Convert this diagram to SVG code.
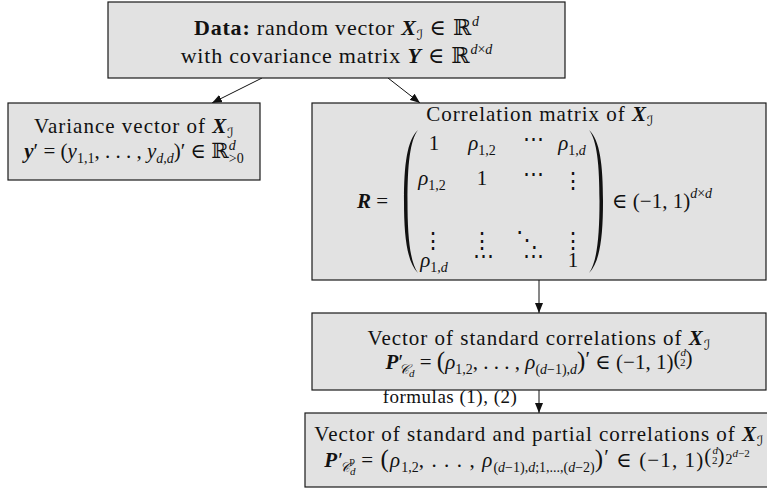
<svg xmlns="http://www.w3.org/2000/svg" width="767" height="502" viewBox="0 0 767 502">
<style>
.box{fill:#e2e2e2;stroke:#1a1a1a;stroke-width:1.2}
text{font-family:"Liberation Serif","DejaVu Serif",serif;font-size:21px;fill:#111}
.big{font-size:22px;letter-spacing:0.8px}
.ls{letter-spacing:1px}
.lab{font-size:19px;letter-spacing:0.5px}
.i{font-style:italic}
.bi{font-style:italic;font-weight:bold}
.b{font-weight:bold}
.sm{font-size:14px;letter-spacing:0}
.xs{font-size:11px;letter-spacing:0}
.cal{font-family:"DejaVu Sans","DejaVu Serif",sans-serif;font-style:italic}
.calc{font-family:"DejaVu Serif","DejaVu Sans",serif;font-style:italic}
.c{text-anchor:middle}
.dots{font-family:"DejaVu Serif",serif;font-size:22px}
.edge{stroke:#111;stroke-width:1;fill:none;marker-end:url(#ah)}
.paren{fill:#111}
</style>
<defs>
<marker id="ah" markerWidth="10" markerHeight="8" refX="10" refY="4" orient="auto" markerUnits="userSpaceOnUse">
<path d="M0,0 L10,4 L0,8 z" fill="#111"/>
</marker>
</defs>

<g id="connectors">
<line class="edge" x1="262" y1="78" x2="212" y2="103"/>
<line class="edge" x1="388" y1="78" x2="420" y2="103"/>
<line class="edge" x1="539" y1="280" x2="539" y2="313"/>
<line class="edge" x1="539" y1="390" x2="539" y2="413"/>
<text x="450" y="403" class="c lab">formulas (1), (2)</text>
</g>

<g id="data">
<rect class="box" x="108" y="2" width="457" height="76"/>
<text x="336.5" y="35" class="c big"><tspan class="b">Data:</tspan> random vector <tspan class="bi">X</tspan><tspan class="cal sm" font-size="15" dy="5">ℐ</tspan><tspan dy="-5"> ∈ ℝ</tspan><tspan class="sm i" font-size="15" dy="-9">d</tspan></text>
<text x="336.5" y="63" class="c big">with covariance matrix <tspan class="bi">Y</tspan> ∈ ℝ<tspan class="sm" font-size="15" dy="-9"><tspan class="i">d</tspan>×<tspan class="i">d</tspan></tspan></text>
</g>

<g id="variance">
<rect class="box" x="8" y="103" width="252" height="77"/>
<text x="134" y="133" class="c ls">Variance vector of <tspan class="bi">X</tspan><tspan class="cal sm" dy="5">ℐ</tspan></text>
<text x="134" y="158" class="c"><tspan class="bi">y</tspan>′ = (<tspan class="i">y</tspan><tspan class="sm" dy="5">1,1</tspan><tspan dy="-5">, . . . , </tspan><tspan class="i">y</tspan><tspan class="sm i" dy="5">d,d</tspan><tspan dy="-5">)′ ∈ ℝ</tspan><tspan class="sm i" dy="-8">d</tspan><tspan class="sm" dx="-7" dy="13">&gt;0</tspan></text>
</g>

<g id="correlation">
<rect class="box" x="312" y="103" width="454" height="177"/>
<text x="540" y="121" class="c ls">Correlation matrix of <tspan class="bi">X</tspan><tspan class="cal sm" dy="5">ℐ</tspan></text>
<text x="357" y="208"><tspan class="bi">R</tspan> =</text>
<path class="paren" d="M418,130 C407,140 404,165 404,201 C404,237 407,262 418,273 C410,262 407.5,237 407.5,201 C407.5,165 410,140 418,130 z"/>
<path class="paren" d="M589,130 C600,140 603,165 603,201 C603,237 600,262 589,273 C597,262 599.5,237 599.5,201 C599.5,165 597,140 589,130 z"/>
<text x="434" y="150" class="c">1</text>
<text x="482" y="150" class="c"><tspan class="i">ρ</tspan><tspan class="sm" dy="5">1,2</tspan></text>
<text x="533" y="146" class="c">⋯</text>
<text x="572" y="150" class="c"><tspan class="i">ρ</tspan><tspan class="sm" dy="5">1,<tspan class="i">d</tspan></tspan></text>
<text x="432" y="185" class="c"><tspan class="i">ρ</tspan><tspan class="sm" dy="5">1,2</tspan></text>
<text x="482" y="185" class="c">1</text>
<text x="533" y="181" class="c">⋯</text>
<text x="573" y="188" class="c dots">⋮</text>
<text x="433" y="248" class="c dots">⋮</text>
<text x="482" y="248" class="c dots">⋮</text>
<text x="527" y="247" class="c dots">⋱</text>
<text x="573" y="248" class="c dots">⋮</text>
<text x="434" y="267" class="c"><tspan class="i">ρ</tspan><tspan class="sm" dy="5">1,<tspan class="i">d</tspan></tspan></text>
<text x="483" y="263" class="c">⋯</text>
<text x="533" y="263" class="c">⋯</text>
<text x="573" y="267" class="c">1</text>
<text x="612" y="208">∈ (−1, 1)<tspan class="sm" dy="-10"><tspan class="i">d</tspan>×<tspan class="i">d</tspan></tspan></text>
</g>

<g id="standard">
<rect class="box" x="312" y="313" width="454" height="77"/>
<text x="539" y="345" class="c ls">Vector of standard correlations of <tspan class="bi">X</tspan><tspan class="cal sm" dy="5">ℐ</tspan></text>
<text x="539" y="369" class="c"><tspan class="bi">P</tspan><tspan>′</tspan><tspan class="calc sm" dx="-4" dy="5">𝒞</tspan><tspan class="xs i" dy="3">d</tspan><tspan dy="-8"> = </tspan><tspan font-size="25">(</tspan><tspan class="i">ρ</tspan><tspan class="sm" dy="5">1,2</tspan><tspan dy="-5">, . . . , </tspan><tspan class="i">ρ</tspan><tspan class="sm" dy="5">(<tspan class="i">d</tspan>−1),<tspan class="i">d</tspan></tspan><tspan font-size="25" dy="-5">)</tspan><tspan dy="-3">′</tspan><tspan dy="3"> ∈ (−1, 1)</tspan><tspan dy="-4">(</tspan><tspan class="xs i" font-size="12" dy="-9">d</tspan><tspan class="xs" font-size="12" dx="-6" dy="10">2</tspan><tspan dy="-1">)</tspan></text>
</g>

<g id="partial">
<rect class="box" x="305" y="413" width="470" height="74"/>
<text x="539" y="441" class="c ls">Vector of standard and partial correlations of <tspan class="bi">X</tspan><tspan class="cal sm" dy="5">ℐ</tspan></text>
<text x="537" y="467" class="c" letter-spacing="1.1"><tspan class="bi">P</tspan><tspan>′</tspan><tspan class="calc sm" dx="-4" dy="5">𝒞</tspan><tspan class="xs i" dy="3">d</tspan><tspan class="xs" dx="-6" dy="-11">p</tspan><tspan dy="3"> = </tspan><tspan font-size="25">(</tspan><tspan class="i">ρ</tspan><tspan class="sm" dy="5">1,2</tspan><tspan dy="-5">, . . . , </tspan><tspan class="i">ρ</tspan><tspan class="sm" dy="5">(<tspan class="i">d</tspan>−1),<tspan class="i">d</tspan>;1,...,(<tspan class="i">d</tspan>−2)</tspan><tspan font-size="25" dy="-5">)</tspan><tspan dy="-3">′</tspan><tspan dy="3"> ∈ (−1, 1)</tspan><tspan dy="-4">(</tspan><tspan class="xs i" font-size="12" dy="-9">d</tspan><tspan class="xs" font-size="12" dx="-6" dy="10">2</tspan><tspan dy="-1">)</tspan><tspan class="sm" dy="1">2</tspan><tspan class="xs" dy="-7"><tspan class="i">d</tspan>−2</tspan></text>
</g>
</svg>
